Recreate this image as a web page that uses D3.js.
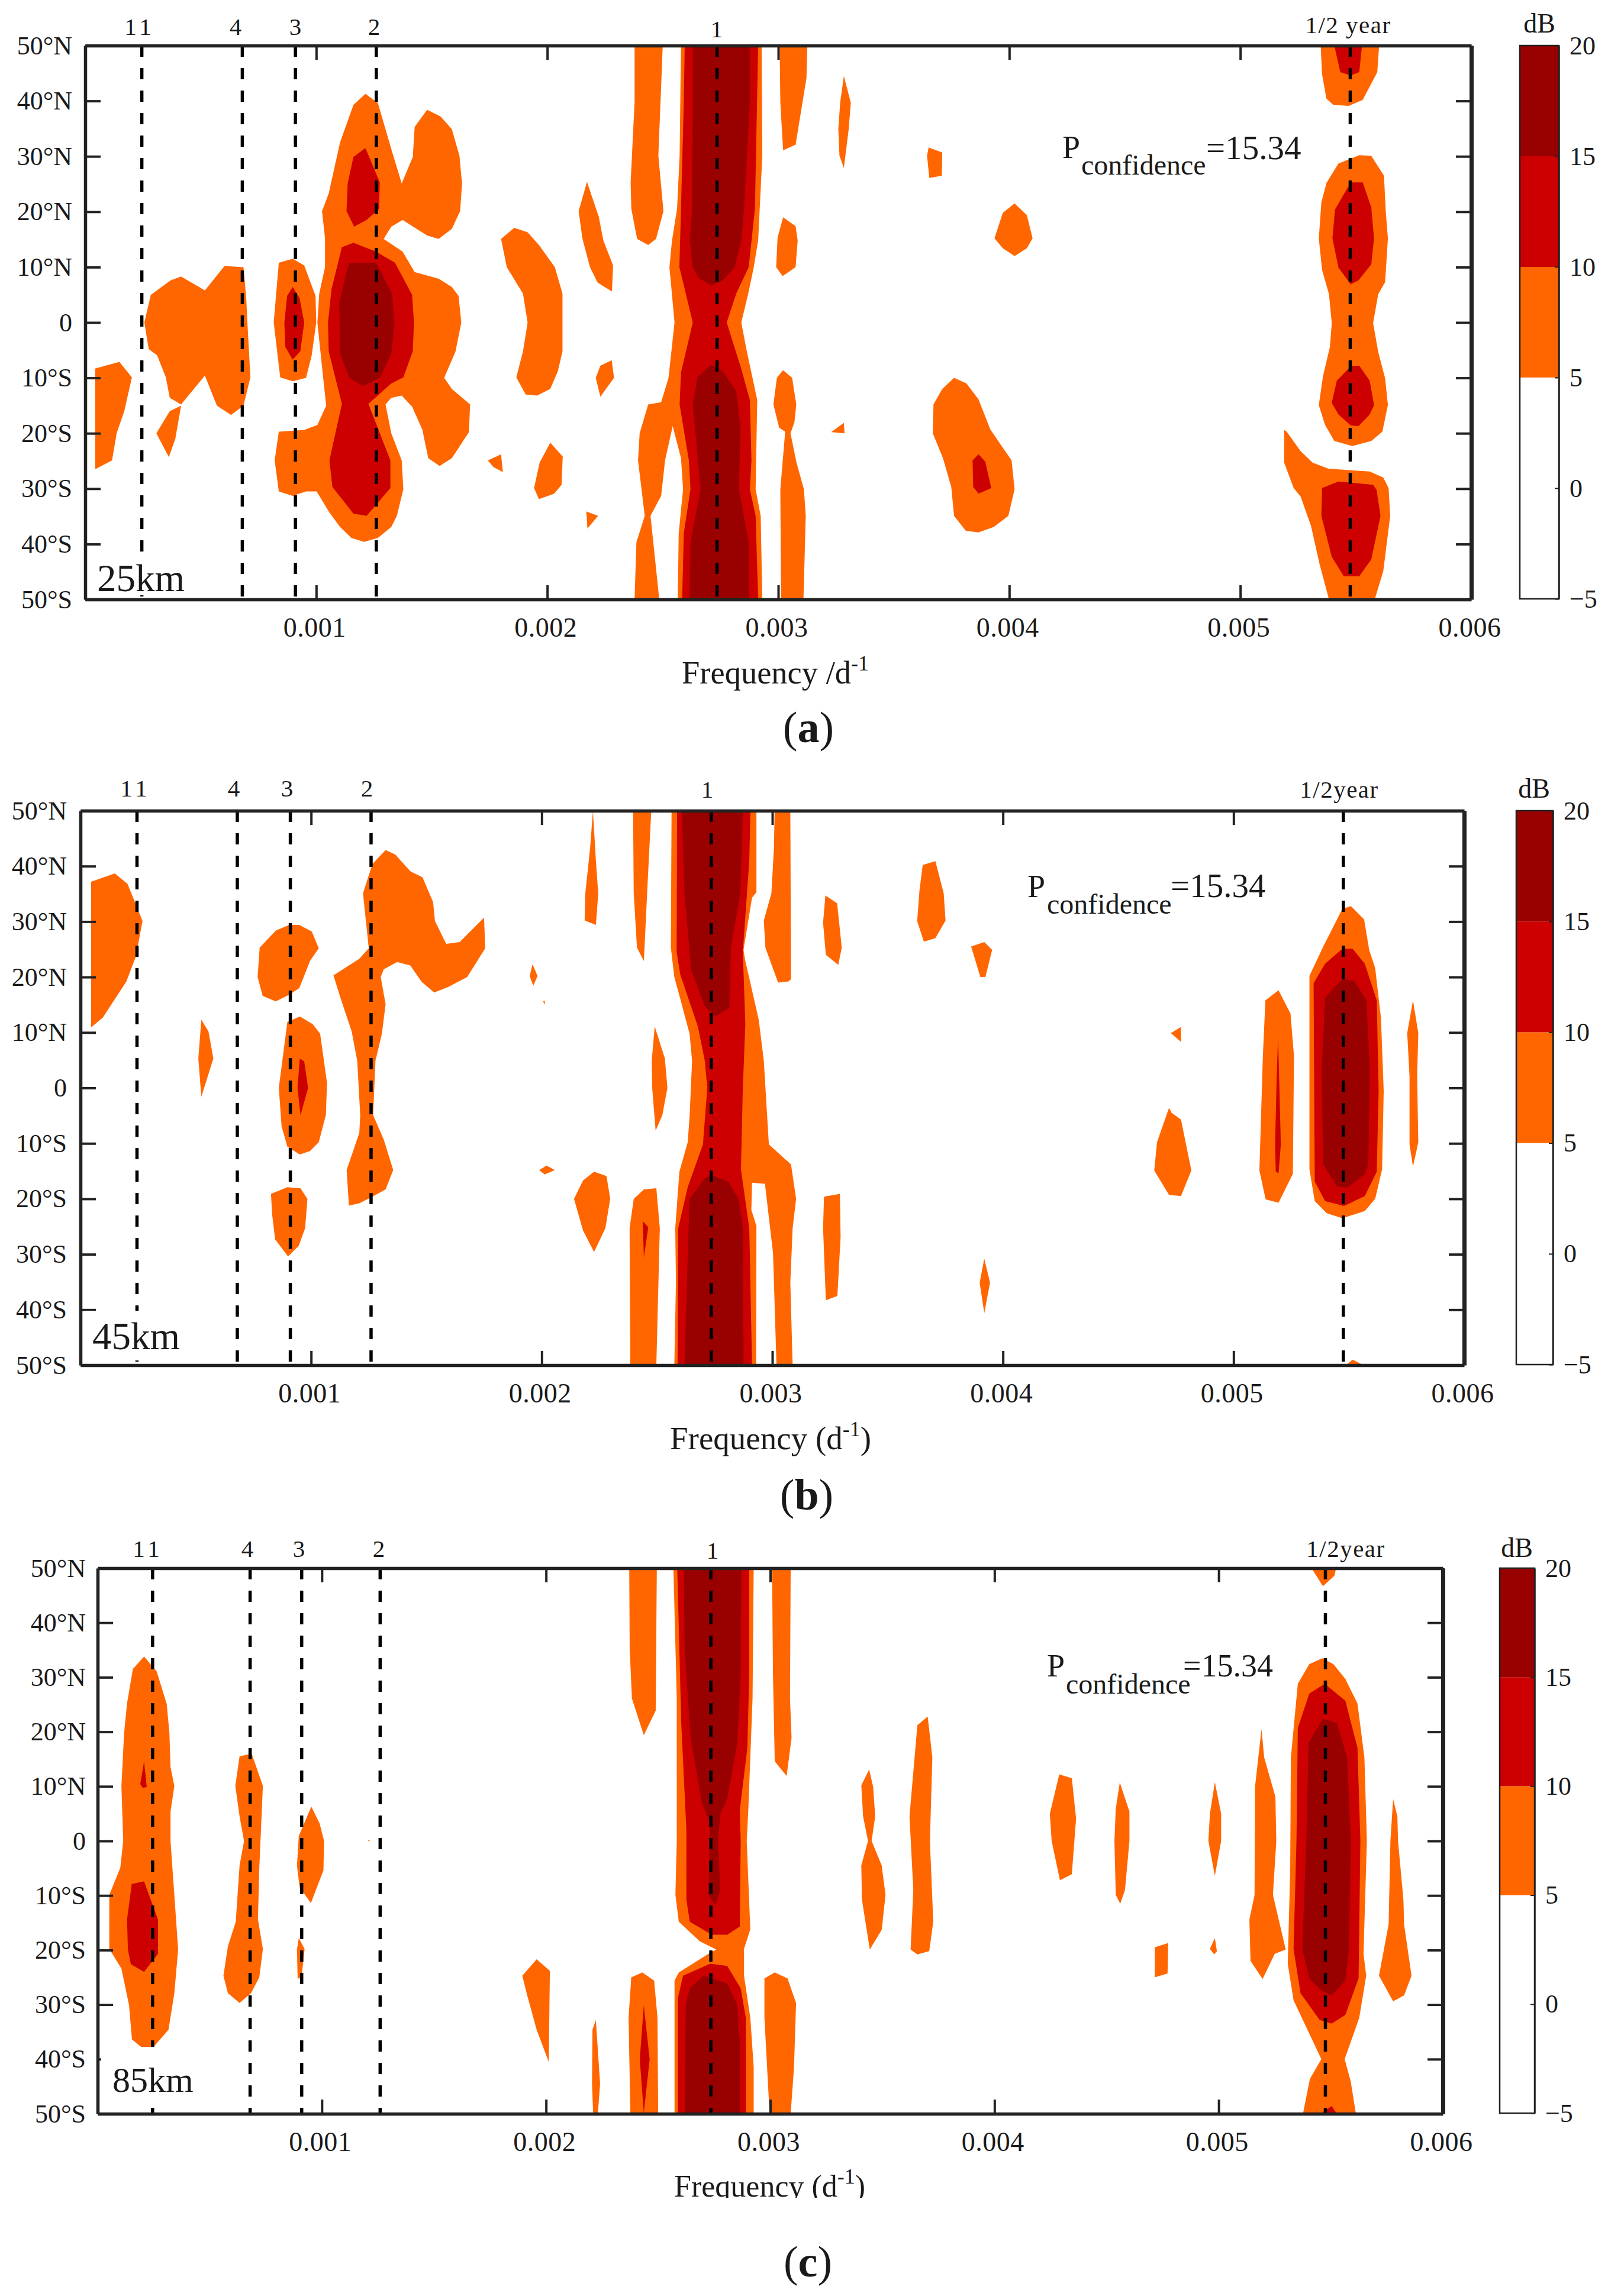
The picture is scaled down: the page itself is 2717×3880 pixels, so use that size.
<!DOCTYPE html>
<html lang="en">

<head>
  <meta charset="UTF-8">
  <script src="https://d3js.org/d3.v7.min.js"></script>
  <style>
    body { margin: 0; background: #fff; }
    text { font-family: "Liberation Serif", serif; fill: #1a1a1a; }
  </style>
</head>

<body>

  <script>
    // contour outlines: [frequency in 1e-3 per day, latitude]
    // panel (a) 25 km
    const a5 = [
      [[.043,-8.3],[.148,-7.1],[.202,-9.9],[.169,-16],[.136,-20],[.116,-24.9],[.043,-26.5]],
      [[.308,-20],[.366,-16],[.415,-15],[.39,-21],[.362,-24.3]],
      [[.256,0],[.284,5],[.37,7.6],[.415,8.3],[.518,5.8],[.603,10.2],[.685,10],[.697,4.4],[.702,0],[.715,-9.9],[.685,-15],[.631,-16.7],[.57,-15],[.518,-9.6],[.415,-14.8],[.366,-13.6],[.349,-9.9],[.311,-5.9],[.275,-4.8]],
      [[.816,0],[.838,10.8],[.898,11.5],[.948,10.3],[.997,4.8],[1,0],[.98,-6],[.956,-10],[.898,-10.6],[.844,-9.9]],
      [[1.213,41.3],[1.267,39.6],[1.325,31.3],[1.37,25.1],[1.418,29.9],[1.426,35.3],[1.48,38.4],[1.538,37.2],[1.587,34.9],[1.62,30.1],[1.631,25.1],[1.623,20.1],[1.587,16.9],[1.53,15.1],[1.48,15.7],[1.374,18.5],[1.325,17.3],[1.292,15.1],[1.374,12.8],[1.426,9.1],[1.53,7.9],[1.587,6.4],[1.616,4.8],[1.628,0],[1.603,-5.2],[1.554,-10],[1.587,-12],[1.666,-14.8],[1.661,-19.8],[1.587,-24.5],[1.534,-25.9],[1.485,-24.5],[1.459,-19.3],[1.415,-15.2],[1.37,-13.2],[1.325,-13.6],[1.3,-14.8],[1.325,-20],[1.37,-24.9],[1.377,-30.1],[1.349,-34.9],[1.325,-36.9],[1.267,-38.9],[1.207,-39.6],[1.152,-38.9],[1.103,-36.9],[1.054,-34.1],[1.002,-30.5],[.956,-30.5],[.898,-31.3],[.838,-30.5],[.82,-24.9],[.838,-19.7],[.948,-19.4],[1.005,-18.5],[1.043,-15],[1.03,-10],[1.005,0],[1.013,5.2],[1.038,10],[1.038,15.2],[1.025,20.1],[1.054,23.3],[1.103,32.5],[1.161,39.3]],
      [[1.8,15.1],[1.857,17.1],[1.915,16.3],[1.964,14],[2.033,10],[2.066,5.2],[2.066,-5.2],[2.046,-8.8],[2.013,-12],[1.956,-13.2],[1.907,-13],[1.866,-9.9],[1.895,-5.2],[1.915,0],[1.895,5.2],[1.825,10]],
      [[2.172,25.4],[2.223,19.1],[2.243,14.8],[2.285,10.3],[2.28,5.6],[2.218,7.2],[2.185,10],[2.152,15.2],[2.136,20.1]],
      [[2.21,-10],[2.23,-7.8],[2.279,-6.8],[2.289,-10],[2.23,-13.4]],
      [[1.743,-24.9],[1.8,-23.8],[1.808,-27],[1.767,-26.1]],
      [[1.943,-29.9],[1.967,-25.3],[2.013,-21.7],[2.067,-24.2],[2.062,-29.3],[2.03,-30.9],[1.964,-31.9]],
      [[2.169,-34.1],[2.22,-34.9],[2.174,-37.2]],
      [[2.378,50],[2.5,50],[2.481,30.1],[2.503,20.1],[2.471,15.1],[2.437,14],[2.389,15.1],[2.364,20.5],[2.361,25.3],[2.378,39.7]],
      [[2.579,50],[2.573,30.1],[2.562,20.5],[2.54,14.8],[2.529,10],[2.551,0],[2.525,-10],[2.493,-14.4],[2.437,-14.8],[2.4,-20],[2.393,-24.9],[2.422,-34.9],[2.386,-39.7],[2.378,-50],[2.485,-50],[2.447,-34.9],[2.493,-31.3],[2.51,-24.9],[2.543,-18.7],[2.579,-24.5],[2.588,-30.1],[2.569,-38.1],[2.565,-50],[2.931,-50],[2.924,-34.9],[2.902,-30.1],[2.909,-14],[2.862,-4.8],[2.84,0],[2.87,5.2],[2.894,10],[2.913,14.8],[2.931,30.1],[2.928,50]],
      [[3.006,50],[3.126,50],[3.122,44.1],[3.075,32.1],[3.021,31.1],[3.009,39.7]],
      [[3.021,19],[3.075,17.4],[3.084,14.8],[3.075,10],[3.019,8.4],[2.991,10],[2.997,15.3]],
      [[3.021,-8.6],[3.06,-10],[3.078,-14.8],[3.07,-18],[3.053,-20],[3.079,-25.3],[3.111,-30.1],[3.119,-34.9],[3.109,-50],[3.012,-50],[3.009,-30.1],[3.03,-19.7],[3.004,-19],[2.979,-14.8],[2.994,-10]],
      [[3.284,44.5],[3.314,39.7],[3.305,34.9],[3.284,27.9],[3.265,30.1],[3.26,34.9],[3.268,39.7]],
      [[3.651,31.6],[3.71,30.7],[3.708,26.5],[3.654,26.1],[3.644,30.1]],
      [[4.023,21.5],[4.076,19.4],[4.101,15.2],[4.076,13.4],[4.023,12],[3.972,13.4],[3.936,15.2],[3.972,19.8]],
      [[3.229,-19.8],[3.284,-18.1],[3.287,-20]],
      [[3.761,-10],[3.815,-11],[3.867,-13.9],[3.918,-19.3],[4.01,-24.9],[4.023,-30.1],[3.996,-34.9],[3.933,-36.9],[3.867,-37.9],[3.812,-37.6],[3.761,-34.9],[3.749,-29.7],[3.713,-24.5],[3.669,-20],[3.672,-14.8],[3.71,-12]],
      [[5.348,50],[5.601,50],[5.593,45.2],[5.53,40.2],[5.47,39.1],[5.403,39.3],[5.373,40.4],[5.354,44.8]],
      [[5.515,30.2],[5.567,30.1],[5.622,26.5],[5.63,19.9],[5.639,15.2],[5.627,7.3],[5.597,5.1],[5.575,-.1],[5.597,-5.3],[5.627,-10.1],[5.639,-14.9],[5.615,-19.7],[5.567,-21.4],[5.485,-22.3],[5.407,-21.4],[5.366,-18.4],[5.34,-14.9],[5.358,-9.7],[5.388,-4.4],[5.396,-.1],[5.384,5.1],[5.354,9.5],[5.34,15.2],[5.351,21.7],[5.373,25.2],[5.425,28.7]],
      [[5.19,-19.4],[5.201,-19.7],[5.261,-23.2],[5.313,-25.3],[5.381,-26.4],[5.56,-26.9],[5.619,-28],[5.642,-29.9],[5.649,-34.9],[5.619,-44.9],[5.582,-50],[5.384,-50],[5.343,-43.6],[5.306,-36.7],[5.261,-31.4],[5.231,-29.9],[5.19,-25.3]]
    ];
    const a10 = [
      [[.862,0],[.874,4.8],[.898,6.4],[.928,4.4],[.948,0],[.931,-5.2],[.898,-6.7],[.866,-4.4]],
      [[1.213,31.5],[1.275,25.3],[1.272,20.5],[1.218,18.5],[1.164,17.3],[1.131,20.1],[1.136,25.1],[1.161,29.9]],
      [[1.161,14.4],[1.259,12.8],[1.341,10.8],[1.415,5],[1.423,0],[1.418,-5.2],[1.377,-9.9],[1.325,-11],[1.226,-14.7],[1.321,-24.9],[1.321,-29.9],[1.218,-34.9],[1.161,-34.5],[1.07,-29.7],[1.057,-24.9],[1.111,-14.7],[1.054,-5.2],[1.051,0],[1.066,6],[1.111,13.6]],
      [[2.595,50],[2.591,39.7],[2.579,20.5],[2.572,10],[2.63,0],[2.579,-9],[2.573,-14.8],[2.613,-24.9],[2.62,-30.1],[2.591,-38.1],[2.584,-50],[2.913,-50],[2.902,-34.9],[2.877,-30.1],[2.884,-24.9],[2.877,-14],[2.84,-8.4],[2.777,0],[2.818,5.2],[2.872,10],[2.899,20.5],[2.913,50]],
      [[3.867,-23.8],[3.896,-25.1],[3.922,-29.9],[3.867,-30.9],[3.844,-29.7],[3.841,-24.9]],
      [[5.407,50],[5.527,50],[5.515,45.2],[5.478,44.6],[5.433,45.2]],
      [[5.478,25.3],[5.53,25.3],[5.567,20.8],[5.579,15.2],[5.567,10.5],[5.512,7.6],[5.478,6.9],[5.425,9.9],[5.399,15.2],[5.41,20.4]],
      [[5.478,-7.9],[5.515,-7.8],[5.56,-10.5],[5.579,-14.9],[5.56,-16.6],[5.512,-18.7],[5.478,-18.6],[5.425,-16.6],[5.396,-14.5],[5.418,-10.5]],
      [[5.354,-29.9],[5.425,-28.7],[5.575,-29.3],[5.59,-30.2],[5.607,-34.9],[5.567,-42.8],[5.515,-45.8],[5.448,-45.8],[5.396,-42.3],[5.351,-34.9]]
    ];
    const a15 = [
      [[1.144,10.8],[1.259,10.8],[1.328,5.2],[1.338,0],[1.325,-5.6],[1.275,-10],[1.202,-11.5],[1.144,-10],[1.103,-5.6],[1.1,3.6],[1.136,10]],
      [[2.63,50],[2.628,20.5],[2.617,14.8],[2.63,10],[2.657,8],[2.708,6.7],[2.76,7.6],[2.811,10],[2.84,14.8],[2.852,20.5],[2.877,39.7],[2.877,50]],
      [[2.708,-7.6],[2.65,-9.9],[2.63,-14.8],[2.664,-30.1],[2.62,-39.7],[2.616,-50],[2.874,-50],[2.872,-39.7],[2.83,-30.1],[2.836,-18.9],[2.818,-12.4],[2.76,-8.8]]
    ];

    // panel (b) 45 km
    const b5 = [
      [[.046,37.2],[.149,38.7],[.204,36.8],[.24,33.1],[.269,30.1],[.24,23.7],[.199,19.2],[.149,16],[.097,12.7],[.046,10.9]],
      [[.524,12.3],[.555,10.2],[.576,5.3],[.524,-1.6],[.511,5.3]],
      [[.777,25.3],[.847,28.4],[.905,29.4],[.949,29.4],[1.003,28.2],[1.033,25.2],[.995,22.9],[.949,18],[.905,16.8],[.847,15.6],[.79,16.6],[.768,20]],
      [[.897,11.9],[.951,12.9],[1.007,11.5],[1.039,9.8],[1.069,.9],[1.064,-4.9],[1.033,-9.8],[.995,-11.4],[.951,-12],[.897,-10.6],[.872,-6.9],[.86,0]],
      [[.826,-19.1],[.897,-17.9],[.954,-18.1],[.984,-20],[.974,-25.3],[.946,-28.5],[.9,-30.4],[.844,-27.3],[.831,-22.8]],
      [[1.323,42.9],[1.365,42.1],[1.43,39.1],[1.483,38],[1.529,33.5],[1.537,30.1],[1.586,26],[1.644,26.3],[1.75,30.7],[1.755,25.2],[1.677,20],[1.594,18.2],[1.534,17.2],[1.48,19.1],[1.43,22.1],[1.373,22.7],[1.315,21.4],[1.302,20],[1.323,15.1],[1.307,9.8],[1.279,4.9],[1.269,-4.9],[1.315,-9.3],[1.356,-14.8],[1.323,-18.3],[1.266,-19.6],[1.209,-20.8],[1.164,-21.2],[1.154,-14.8],[1.209,-8.1],[1.213,-4.9],[1.2,4.9],[1.176,10.2],[1.126,16.4],[1.097,20.3],[1.209,23.3],[1.25,25.2],[1.225,35.1],[1.266,40.4]],
      [[1.96,22.3],[1.982,20.2],[1.963,18.4],[1.948,20.2]],
      [[2.006,15.7],[2.014,15.7],[2.012,15]],
      [[1.989,-14.8],[2.021,-14],[2.057,-14.8],[2.013,-15.6]],
      [[2.222,50],[2.235,40.9],[2.245,35.1],[2.235,29.4],[2.186,30.2],[2.189,35.1],[2.21,43.3]],
      [[2.227,-15.1],[2.281,-15.9],[2.297,-20],[2.276,-25.3],[2.227,-29.6],[2.179,-25.7],[2.14,-20],[2.179,-16.7]],
      [[2.396,50],[2.475,50],[2.457,35.1],[2.443,22.9],[2.413,25.3],[2.399,35.1]],
      [[2.49,11.1],[2.534,5.3],[2.545,0],[2.523,-4.9],[2.494,-7.7],[2.479,0],[2.477,4.9]],
      [[2.443,-18.3],[2.497,-18.1],[2.512,-25.3],[2.497,-50],[2.384,-50],[2.381,-25.3],[2.399,-20]],
      [[2.563,50],[2.56,25.3],[2.575,20],[2.607,15.1],[2.641,9.8],[2.652,4.9],[2.641,-5.3],[2.633,-9.8],[2.597,-15.1],[2.579,-25.3],[2.582,-35.1],[2.575,-50],[2.93,-50],[2.931,-24.9],[2.909,-22],[2.912,-17.1],[2.968,-17.3],[3.003,-29.8],[3.018,-50],[3.088,-50],[3.078,-35.1],[3.088,-25.3],[3.103,-20],[3.081,-13.8],[2.985,-10.2],[2.963,4.9],[2.941,12.3],[2.883,22.9],[2.875,24.9],[2.912,34.3],[2.931,35.3],[2.931,50]],
      [[3.01,50],[3.078,50],[3.081,19.6],[3.07,19.2],[3.025,19],[2.97,25.3],[2.963,30.2],[2.996,35.1],[3.007,43.3]],
      [[3.23,34.7],[3.281,33.3],[3.301,25.3],[3.286,22.2],[3.232,24],[3.22,29.8]],
      [[3.224,-19.6],[3.293,-19.1],[3.296,-26.9],[3.282,-37.5],[3.232,-38.3],[3.22,-25.3]],
      [[3.652,40.2],[3.707,40.9],[3.743,35.1],[3.751,30.2],[3.707,27],[3.657,26.4],[3.628,30.1],[3.638,35.6]],
      [[3.862,25.5],[3.919,26.3],[3.953,24.9],[3.924,20],[3.902,20]],
      [[3.919,-30.8],[3.944,-35.1],[3.919,-40.6],[3.899,-35.1]],
      [[4.728,9.9],[4.772,11],[4.772,8.3]],
      [[4.72,-3.6],[4.732,-4.5],[4.772,-5.7],[4.817,-14.9],[4.772,-19.5],[4.72,-19.3],[4.656,-14.9],[4.668,-9.8]],
      [[5.138,15.8],[5.195,17.6],[5.247,13.4],[5.262,5.7],[5.257,-15.5],[5.195,-20.7],[5.139,-20.1],[5.112,-14.9],[5.127,5.7]],
      [[5.509,32.8],[5.566,30.4],[5.588,24.9],[5.614,21.6],[5.639,12.7],[5.651,-.5],[5.644,-14.7],[5.614,-20],[5.569,-22.2],[5.472,-23.5],[5.404,-22.6],[5.352,-20.4],[5.329,-14.7],[5.329,20.2],[5.389,25.5],[5.472,32.3]],
      [[5.778,15.8],[5.801,9.9],[5.796,2.1],[5.801,-9.8],[5.778,-14.2],[5.763,-10.2],[5.763,2.1],[5.753,9.9]],
      [[5.487,-50],[5.516,-49],[5.564,-50]]
    ];
    const b10 = [
      [[.951,5.3],[.97,4.8],[.987,0],[.954,-4.9],[.941,0]],
      [[2.438,-24],[2.462,-25.1],[2.443,-30.6]],
      [[2.587,50],[2.585,24.5],[2.601,20.4],[2.677,11.1],[2.707,4.9],[2.718,0],[2.699,-10.2],[2.633,-17.9],[2.592,-25.3],[2.589,-50],[2.912,-50],[2.9,-25.3],[2.864,-14.7],[2.872,0],[2.883,11.5],[2.872,24.5],[2.9,40.9],[2.905,50]],
      [[5.193,9.2],[5.205,-10.2],[5.195,-15.4],[5.183,-15.1],[5.18,-10.2],[5.187,2.1]],
      [[5.472,25.1],[5.516,25.1],[5.569,22.4],[5.621,15.8],[5.629,-.5],[5.621,-15.1],[5.569,-19.5],[5.479,-21.3],[5.397,-20.4],[5.352,-16.9],[5.347,18.9],[5.397,22.4]]
    ];
    const b15 = [
      [[2.607,50],[2.619,35.1],[2.648,21.3],[2.707,14.7],[2.754,12.9],[2.814,14.5],[2.82,25.3],[2.861,35.1],[2.872,50]],
      [[2.707,-16.3],[2.736,-15.7],[2.809,-16.9],[2.853,-20],[2.872,-25.3],[2.875,-50],[2.619,-50],[2.641,-20]],
      [[5.472,19.6],[5.524,19.3],[5.576,15.8],[5.591,3],[5.584,-13.8],[5.569,-15.5],[5.494,-18],[5.449,-17.8],[5.389,-13.8],[5.382,3],[5.397,16.3]]
    ];

    // panel (c) 85 km
    const c5 = [
      [[.207,33.8],[.263,31.1],[.308,25.1],[.32,19.8],[.325,13.5],[.342,10.1],[.325,5.4],[.325,0],[.342,-9.9],[.359,-19.9],[.342,-27.9],[.316,-34.6],[.249,-37.8],[.207,-38.2],[.153,-36.4],[.14,-30.1],[.106,-23.4],[.052,-19.8],[.052,-9.9],[.101,-4.9],[.114,0],[.106,10.1],[.118,19.8],[.131,25.2],[.157,31.5]],
      [[.633,15.5],[.687,16],[.737,10.1],[.721,-4.9],[.715,-14.4],[.737,-19.8],[.721,-25],[.684,-27.9],[.633,-29.7],[.581,-27.9],[.561,-24.7],[.581,-19.3],[.616,-14.8],[.633,-4.5],[.653,0],[.633,4.5],[.614,10.1]],
      [[.953,6.3],[.99,3.2],[1.01,0],[1.007,-5.4],[.951,-11.4],[.901,-8.5],[.889,-4.5],[.897,.9]],
      [[.897,-17.8],[.923,-19.8],[.909,-25.2],[.892,-25.2],[.889,-19.9]],
      [[1.206,.2],[1.214,.2],[1.21,-.2]],
      [[1.958,-21.7],[2.017,-23.8],[2.012,-40.5],[1.958,-34.6],[1.916,-28.3],[1.894,-24.7]],
      [[2.222,-32.8],[2.241,-44.5],[2.231,-50],[2.21,-50],[2.205,-44.5],[2.207,-34.6]],
      [[2.371,50],[2.494,50],[2.489,23.9],[2.436,19.4],[2.383,26.1],[2.373,35.1]],
      [[2.429,-24.1],[2.482,-25.6],[2.497,-32.4],[2.5,-50],[2.376,-50],[2.368,-32.4],[2.38,-25]],
      [[2.568,50],[2.583,26.1],[2.583,0],[2.577,-9.9],[2.592,-14.8],[2.686,-18.4],[2.759,-19.9],[2.732,-20.5],[2.592,-24.1],[2.573,-25.6],[2.573,-50],[2.926,-50],[2.926,-41.4],[2.911,-32.4],[2.883,-24.7],[2.883,-19.8],[2.911,-16.2],[2.895,0],[2.902,5.6],[2.921,26.1],[2.926,50]],
      [[3.008,50],[3.091,50],[3.088,26.1],[3.095,18.9],[3.073,11.9],[3.02,14.6],[3.012,30.6]],
      [[2.974,-25.2],[3.02,-24.1],[3.077,-25.2],[3.115,-29.7],[3.106,-41.4],[3.091,-50],[2.997,-50],[2.974,-32.4]],
      [[3.441,13.1],[3.459,9.9],[3.468,4.5],[3.452,0],[3.497,-4.5],[3.514,-9.9],[3.497,-16.3],[3.444,-19.9],[3.409,-10.8],[3.406,-4.5],[3.436,0],[3.414,4.5],[3.406,10.2]],
      [[3.702,22.8],[3.723,15.3],[3.712,0],[3.727,-14.8],[3.709,-20.2],[3.656,-20.8],[3.626,-19.9],[3.638,-9],[3.621,4.5],[3.656,21.2]],
      [[4.289,12.2],[4.345,11.5],[4.364,4.1],[4.345,-6.1],[4.292,-7.2],[4.255,0],[4.247,5]],
      [[4.559,10.7],[4.602,5.4],[4.602,0],[4.582,-9],[4.561,-11.5],[4.541,-9.9],[4.535,0],[4.541,5.9]],
      [[4.983,10.8],[5.011,5],[5.011,0],[4.983,-6.4],[4.954,0],[4.961,5]],
      [[4.715,-19.5],[4.775,-18.7],[4.772,-24.3],[4.715,-25]],
      [[4.983,-17.8],[4.992,-20.2],[4.98,-20.8],[4.961,-19.8]],
      [[5.191,20.5],[5.203,15.3],[5.253,8.1],[5.257,0],[5.242,-9.9],[5.299,-19.9],[5.25,-20.7],[5.196,-25.3],[5.142,-22],[5.137,-14.4],[5.16,-9.9],[5.162,9.9]],
      [[5.462,33.5],[5.512,32.4],[5.565,29.7],[5.619,25.2],[5.65,15.3],[5.661,0],[5.646,-20.7],[5.658,-24.7],[5.627,-32.4],[5.562,-40],[5.589,-44.1],[5.612,-50],[5.376,-50],[5.407,-43.6],[5.458,-40],[5.396,-34.6],[5.334,-29.2],[5.308,-22.5],[5.319,-5.4],[5.322,15.3],[5.353,28.8],[5.404,32.4]],
      [[5.414,50],[5.524,50],[5.516,48.6],[5.465,46.7]],
      [[5.778,7.7],[5.797,4.5],[5.8,0],[5.824,-10.8],[5.827,-15.3],[5.86,-24.7],[5.827,-28.3],[5.778,-29.4],[5.715,-24.7],[5.758,-15.3],[5.766,0]]
    ];
    const c10 = [
      [[.152,-7.9],[.207,-7.4],[.269,-14.4],[.269,-20.7],[.207,-24],[.148,-22.6],[.135,-19.9],[.131,-14.4]],
      [[.207,14.6],[.219,9.9],[.202,9.7],[.19,10.4]],
      [[2.436,-30.1],[2.462,-40],[2.436,-49.9],[2.418,-40]],
      [[2.585,50],[2.603,21.6],[2.626,1.8],[2.626,-10.8],[2.641,-14.8],[2.739,-17.2],[2.808,-17.2],[2.864,-15.7],[2.868,0],[2.864,5.6],[2.898,17.1],[2.906,30.6],[2.906,50]],
      [[2.588,-50],[2.588,-28.8],[2.611,-24.7],[2.732,-22.5],[2.808,-22.9],[2.868,-27],[2.891,-32.4],[2.891,-50]],
      [[5.473,28.8],[5.565,25.7],[5.619,17.1],[5.632,0],[5.624,-25.2],[5.565,-31.9],[5.504,-33.5],[5.45,-32.8],[5.365,-27.9],[5.334,-19.8],[5.347,0],[5.353,20.7],[5.404,27]],
      [[5.455,-50],[5.504,-48.6],[5.527,-50]]
    ];
    const c15 = [
      [[2.614,50],[2.618,35.1],[2.645,18.9],[2.694,7.2],[2.732,3.2],[2.724,-9.9],[2.755,-11.7],[2.777,-9],[2.767,0],[2.777,5],[2.808,7.7],[2.853,18],[2.868,30.6],[2.871,50]],
      [[2.702,-24.7],[2.808,-26.1],[2.853,-30.1],[2.864,-36.9],[2.864,-50],[2.618,-50],[2.623,-30.1],[2.641,-27]],
      [[5.465,22.4],[5.527,21.6],[5.573,15.3],[5.589,0],[5.581,-19.8],[5.565,-25.6],[5.504,-28.3],[5.458,-27.4],[5.404,-25.2],[5.373,-19.8],[5.391,0],[5.401,18]]
    ];

    const freqTicks = [0.001, 0.002, 0.003, 0.004, 0.005, 0.006];
    const latTicks = [50, 40, 30, 20, 10, 0, -10, -20, -30, -40, -50];
    const latLabels = ['50°N', '40°N', '30°N', '20°N', '10°N', '0', '10°S', '20°S', '30°S', '40°S', '50°S'];
    const periodFreqs = [0.000245, 0.00068, 0.00091, 0.00126, 0.002735, 0.005476];
    const dbLevels = [-5, 5, 10, 15, 20];
    const dbTicks = [20, 15, 10, 5, 0, -5];
    const dbColors = ['#ffffff', '#ff6600', '#cc0000', '#990000'];

    const svg = d3.select("body")
     .append("svg")
     .attr("width", 2717)
     .attr("height", 3880)
     .style("display", "block");

    // page layout of each panel
    const panels = [
      { bands: [a5, a10, a15], left: 144, right: 2486, top: 77, bottom: 1013, labelX: 122,
        periods: ['11', '4', '3', '2', '1', '1/2 year'], periodX: [236, 398, 499, 632, 1211, 2278], periodY: [45, 45, 45, 45, 49, 42],
        pX: [1795, 1827, 2038], pY: [267, 295, 269], eqSize: 57,
        height: '25km', heightX: 164, heightY: 999, heightSize: 65, box: [150, 932, 170, 74],
        title: ['Frequency /d', '-1', ''], titleX: 1152, titleY: 1155, titleSize: 54.5,
        barX: 2568, barW: 66, dbX: 2601, dbY: 55,
        sub: 'a', subX: 1366, subY: 1254 },
      { bands: [b5, b10, b15], left: 136, right: 2474, top: 1370, bottom: 2307, labelX: 113,
        periods: ['11', '4', '3', '2', '1', '1/2year'], periodX: [229, 395, 485, 620, 1195, 2263], periodY: [1332, 1332, 1332, 1332, 1334, 1334],
        pX: [1736, 1769, 1978], pY: [1516, 1544, 1516], eqSize: 57,
        height: '45km', heightX: 156, heightY: 2280, heightSize: 65, box: [141, 2215, 170, 84],
        title: ['Frequency (d', '-1', ')'], titleX: 1132, titleY: 2449, titleSize: 55,
        barX: 2562, barW: 62, dbX: 2592, dbY: 1348,
        sub: 'b', subX: 1363, subY: 2551 },
      { bands: [c5, c10, c15], left: 165, right: 2438, top: 2650, bottom: 3572, labelX: 145,
        periods: ['11', '4', '3', '2', '1', '1/2year'], periodX: [250, 418, 505, 640, 1204, 2274], periodY: [2617, 2617, 2617, 2617, 2620, 2617],
        pX: [1769, 1801, 1999], pY: [2833, 2862, 2833], eqSize: 54,
        height: '85km', heightX: 190, heightY: 3535, heightSize: 60, box: [171, 3459, 165, 91],
        title: ['Frequency (d', '-1', ')'], titleX: 1139, titleY: 3712, titleSize: 52,
        barX: 2534, barW: 59, dbX: 2563, dbY: 2631,
        sub: 'c', subX: 1365, subY: 3847 }
    ];

    panels.forEach(p => {
      const x = d3.scaleLinear().domain([0, 0.006]).range([p.left, p.right]);
      const y = d3.scaleLinear().domain([-50, 50]).range([p.bottom, p.top]);
      const g = svg.append("g");

      // filled contour bands, lowest level first
      const outline = d3.line().x(d => x(d[0] * 1e-3)).y(d => y(d[1]));
      p.bands.forEach((band, i) => {
        g.append("g").selectAll("path")
         .data(band)
         .enter()
         .append("path")
         .attr("d", d => outline(d) + "Z")
         .attr("fill", dbColors[i + 1]);
      });

      // period lines
      g.append("g").selectAll("line")
       .data(periodFreqs)
       .enter()
       .append("line")
       .attr("x1", d => x(d))
       .attr("x2", d => x(d))
       .attr("y1", p.top)
       .attr("y2", p.bottom)
       .attr("stroke", "#000")
       .attr("stroke-width", 5.5)
       .attr("stroke-dasharray", "19 19");

      const styleAxis = (sel, width) => {
        sel.selectAll("path").attr("stroke", "#222").attr("stroke-width", width);
        sel.selectAll("line").attr("stroke", "#222").attr("stroke-width", 4);
        sel.selectAll("text").attr("font-size", 44).attr("font-family", '"Liberation Serif", serif').attr("fill", "#1a1a1a");
      };

      g.append("g")
       .attr("transform", `translate(0,${p.bottom})`)
       .call(d3.axisBottom(x).tickValues(freqTicks).tickFormat(d3.format(".3f")).tickSize(-24).tickSizeOuter(0).tickPadding(30))
       .call(styleAxis, 5.5)
       .call(s => s.selectAll("text").attr("font-size", 46).attr("letter-spacing", 0.5).attr("dx", -3));
      g.append("g")
       .attr("transform", `translate(0,${p.top})`)
       .call(d3.axisTop(x).tickValues(freqTicks).tickFormat("").tickSize(-24).tickSizeOuter(0))
       .call(styleAxis, 5.5);
      g.append("g")
       .attr("transform", `translate(${p.left},0)`)
       .call(d3.axisLeft(y).tickValues(latTicks).tickFormat((d, i) => latLabels[i]).tickSize(-26).tickSizeOuter(0).tickPadding(p.left - p.labelX))
       .call(styleAxis, 5.5);
      g.append("g")
       .attr("transform", `translate(${p.right},0)`)
       .call(d3.axisRight(y).tickValues(latTicks).tickFormat("").tickSize(-26).tickSizeOuter(0))
       .call(styleAxis, 7);

      // height label sits on a white box that hides what is behind it
      g.append("rect")
       .attr("x", p.box[0]).attr("y", p.box[1])
       .attr("width", p.box[2]).attr("height", p.box[3])
       .attr("fill", "#fff");
      g.append("text")
       .attr("x", p.heightX).attr("y", p.heightY)
       .attr("font-size", p.heightSize)
       .text(p.height);

      // period names over the frame
      g.append("g").selectAll("text")
       .data(p.periods)
       .enter()
       .append("text")
       .attr("x", (d, i) => p.periodX[i])
       .attr("y", (d, i) => p.periodY[i] + 14)
       .attr("text-anchor", "middle")
       .attr("font-size", 41)
       .attr("letter-spacing", d => d === '11' ? 6 : d.length > 1 ? 1.5 : 0)
       .text(d => d);

      // P confidence note
      g.append("text").attr("x", p.pX[0]).attr("y", p.pY[0]).attr("font-size", 54).text("P");
      g.append("text").attr("x", p.pX[1]).attr("y", p.pY[1]).attr("font-size", 48).text("confidence");
      g.append("text").attr("x", p.pX[2]).attr("y", p.pY[2]).attr("font-size", p.eqSize).text("=15.34");

      // axis title
      const title = g.append("text")
       .attr("x", p.titleX).attr("y", p.titleY)
       .attr("font-size", p.titleSize);
      title.append("tspan").text(p.title[0]);
      title.append("tspan").attr("dy", -22).attr("font-size", 36).text(p.title[1]);
      title.append("tspan").attr("dy", 22).text(p.title[2]);

      // colour bar
      const yBar = d3.scaleLinear().domain([-5, 20]).range([p.bottom - 1, p.top]);
      g.append("g").selectAll("rect")
       .data(dbColors)
       .enter()
       .append("rect")
       .attr("x", p.barX)
       .attr("width", p.barW)
       .attr("y", (d, i) => yBar(dbLevels[i + 1]))
       .attr("height", (d, i) => yBar(dbLevels[i]) - yBar(dbLevels[i + 1]))
       .attr("fill", d => d);
      g.append("rect")
       .attr("x", p.barX).attr("y", p.top)
       .attr("width", p.barW).attr("height", p.bottom - 1 - p.top)
       .attr("fill", "none").attr("stroke", "#222").attr("stroke-width", 2.5);
      g.append("g")
       .attr("transform", `translate(${p.barX + p.barW},0)`)
       .call(d3.axisRight(yBar).tickValues(dbTicks).tickSize(-7).tickSizeOuter(0).tickPadding(18))
       .call(styleAxis, 2.5)
       .call(s => s.selectAll("line").attr("stroke-width", 2));
      g.append("text")
       .attr("x", p.dbX).attr("y", p.dbY)
       .attr("text-anchor", "middle")
       .attr("font-size", 46)
       .text("dB");

      // sub-figure tag
      const tag = g.append("text")
       .attr("x", p.subX).attr("y", p.subY)
       .attr("text-anchor", "middle")
       .attr("font-size", 74);
      tag.append("tspan").text("(");
      tag.append("tspan").attr("font-weight", "bold").text(p.sub);
      tag.append("tspan").text(")");
    });

    // the bottom title of panel (c) is cut off in the figure
    svg.append("rect")
     .attr("x", 1120).attr("y", 3714)
     .attr("width", 370).attr("height", 24)
     .attr("fill", "#fff");
  </script>

</body>

</html>
